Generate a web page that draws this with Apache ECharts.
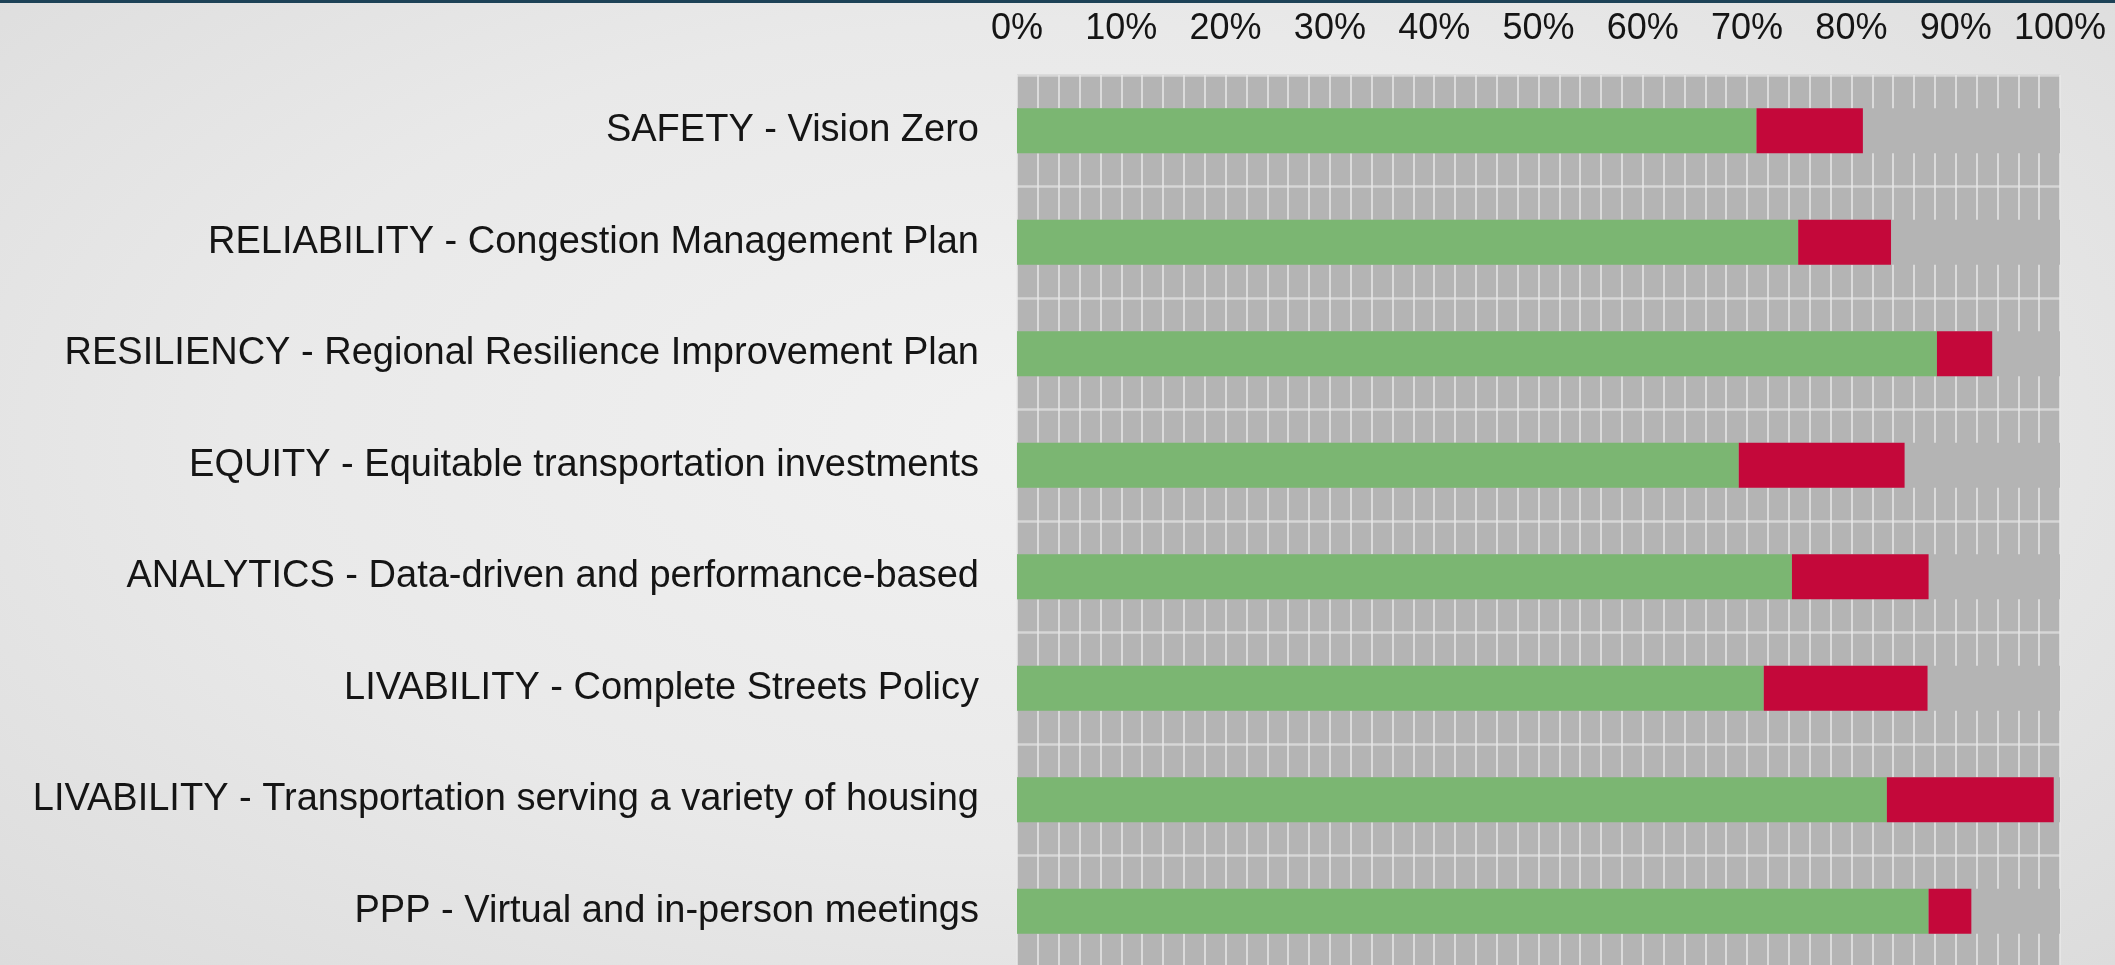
<!DOCTYPE html>
<html>
<head>
<meta charset="utf-8">
<script src="https://cdn.jsdelivr.net/npm/echarts@6/dist/echarts.min.js"></script>
<style>
html, body { margin: 0; padding: 0; width: 100%; height: 100%; overflow: hidden; }
body { background: radial-gradient(ellipse at 50% 45%, #f1f1f1 0%, #e9e9e9 55%, #dcdcdc 100%); }
#main { width: 2115px; height: 965px; }
</style>
</head>
<body>
<div id="main"></div>
<script>
var categories = [
    'SAFETY - Vision Zero',
    'RELIABILITY - Congestion Management Plan',
    'RESILIENCY - Regional Resilience Improvement Plan',
    'EQUITY - Equitable transportation investments',
    'ANALYTICS - Data-driven and performance-based',
    'LIVABILITY - Complete Streets Policy',
    'LIVABILITY - Transportation serving a variety of housing',
    'PPP - Virtual and in-person meetings'
];
var greenValues = [70.9, 74.9, 88.2, 69.2, 74.3, 71.6, 83.4, 87.4];
var redValues = [10.2, 8.9, 5.3, 15.9, 13.1, 15.7, 16.0, 4.1];
var xTicks = [0, 10, 20, 30, 40, 50, 60, 70, 80, 90, 100];

var myChart = echarts.init(document.getElementById('main'));

var labelFont = '"Liberation Sans", Arial, sans-serif';

var option = {
    backgroundColor: 'transparent',
    animation: false,
    graphic: [{
        type: 'rect',
        shape: { x: 0, y: 0, width: 2115, height: 3 },
        style: { fill: '#1d4257' }
    }],
    grid: {
        left: 1017,
        top: 75,
        width: 1043,
        height: 892,
        outerBoundsMode: 'none',
        containLabel: false,
        show: true,
        backgroundColor: '#b4b4b4',
        borderWidth: 0
    },
    xAxis: {
        type: 'value',
        position: 'top',
        min: xTicks[0],
        max: xTicks[xTicks.length - 1],
        interval: 10,
        axisLine: { show: false },
        axisTick: { show: false },
        minorTick: { show: false, splitNumber: 5 },
        axisLabel: {
            margin: 28,
            fontSize: 36,
            fontFamily: labelFont,
            color: '#151515',
            formatter: '{value}%'
        },
        splitLine: { show: true, lineStyle: { color: '#e8e8e8', width: 1.5 } },
        minorSplitLine: { show: true, lineStyle: { color: '#e8e8e8', width: 1.5 } }
    },
    yAxis: {
        type: 'category',
        inverse: true,
        data: categories,
        axisLine: { show: false },
        axisTick: { show: false },
        axisLabel: {
            margin: 38,
            fontSize: 38,
            padding: [6, 0, 0, 0],
            fontFamily: labelFont,
            color: '#151515'
        },
        splitLine: { show: true, lineStyle: { color: '#d6d6d6', width: 2.5 } }
    },
    series: [{
        name: 'green',
        type: 'bar',
        stack: 'total',
        barWidth: 45,
        data: greenValues,
        showBackground: true,
        backgroundStyle: { color: '#b4b4b4' },
        itemStyle: { color: '#7bb672' }
    }, {
        name: 'red',
        type: 'bar',
        stack: 'total',
        barWidth: 45,
        data: redValues,
        itemStyle: { color: '#c4083a' }
    }]
};

myChart.setOption(option);

window.onresize = function () {
    myChart.resize();
};
</script>
</body>
</html>
